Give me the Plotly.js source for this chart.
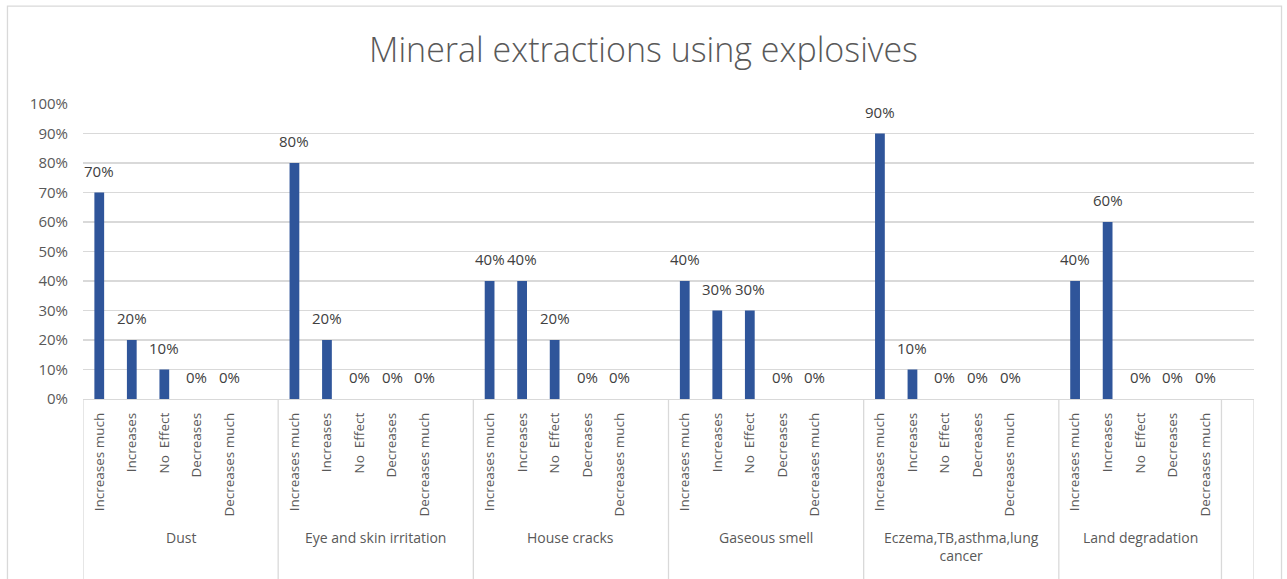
<!DOCTYPE html>
<html>
<head>
<meta charset="utf-8">
<script src="https://cdn.plot.ly/plotly-3.0.1.min.js"></script>
<style>
  html, body { margin: 0; padding: 0; background: #ffffff; }
  #chart { width: 1287px; height: 579px; }
</style>
</head>
<body>
<div id="chart"></div>
<script>
// ---- data ----
var chartTitle = 'Mineral extractions using explosives';
var groups = ['Dust', 'Eye and skin irritation', 'House cracks', 'Gaseous smell', 'Eczema,TB,asthma,lung<br>cancer', 'Land degradation'];
var responses = ['Increases much', 'Increases', 'No\u00a0 Effect', 'Decreases', 'Decreases much'];
var dustValues = [0.7, 0.2, 0.1, 0, 0];
var eyeSkinValues = [0.8, 0.2, 0, 0, 0];
var houseCracksValues = [0.4, 0.4, 0.2, 0, 0];
var gaseousSmellValues = [0.4, 0.3, 0.3, 0, 0];
var eczemaValues = [0.9, 0.1, 0, 0, 0];
var landDegradationValues = [0.4, 0.6, 0, 0, 0];
var yTickValues = [0, 0.1, 0.2, 0.3, 0.4, 0.5, 0.6, 0.7, 0.8, 0.9, 1.0];

var seriesByGroup = [dustValues, eyeSkinValues, houseCracksValues, gaseousSmellValues, eczemaValues, landDegradationValues];

// ---- layout of category slots (Excel-like: blank row after each group) ----
var slotsPerGroup = 6;
var x = [], y = [], tickvals = [], ticktext = [];
var groupStarts = [];
groups.forEach(function (g, gi) {
  var start = gi * slotsPerGroup;
  groupStarts.push(start);
  responses.forEach(function (r, ri) {
    var pos = start + ri;
    x.push(pos);
    y.push(seriesByGroup[gi][ri]);
    tickvals.push(pos);
    ticktext.push(r);
  });
});
var lastGroupEnd = groupStarts[groupStarts.length - 1] + responses.length - 0.5;
var xMax = lastGroupEnd + 1;

var textColor = '#595959';
var gridColor = '#d9d9d9';
var barColor = '#2f559a';
var fontFam = '"Open Sans", "Noto Sans", sans-serif';

var shapes = [];
// dividers
var dividers = groupStarts.map(function (s) { return s - 0.5; });
dividers.push(lastGroupEnd);
dividers.push(xMax);
dividers.forEach(function (d) {
  shapes.push({type: 'line', xref: 'x', yref: 'paper', x0: d, x1: d, y0: 0, y1: -0.62,
               line: {color: gridColor, width: 1.3}});
});
// outer chart border
shapes.push({type: 'rect', xref: 'paper', yref: 'paper', x0: -0.0645, x1: 1.0235, y0: 1.332, y1: -0.65,
             line: {color: gridColor, width: 1.3}, fillcolor: 'rgba(0,0,0,0)'});

var annotations = [];
// data labels
x.forEach(function (xv, i) {
  annotations.push({x: xv, y: y[i], xref: 'x', yref: 'y', text: Math.round(y[i] * 100) + '%',
                    showarrow: false, yanchor: 'bottom', yshift: 10,
                    font: {family: fontFam, size: 15, color: '#404040'}});
});
// group labels
groups.forEach(function (g, gi) {
  var start = groupStarts[gi];
  var end = (gi < groups.length - 1) ? groupStarts[gi + 1] - 0.5 : lastGroupEnd;
  var center = ((start - 0.5) + end) / 2;
  annotations.push({x: center, y: -0.432, xref: 'x', yref: 'paper', text: g, showarrow: false,
                    yanchor: 'top', align: 'center',
                    font: {family: fontFam, size: 14, color: textColor}});
});

var data = [{
  type: 'bar',
  x: x,
  y: y,
  width: 0.3,
  marker: {color: barColor},
  hoverinfo: 'y'
}];

var layout = {
  width: 1287,
  height: 579,
  margin: {l: 83, r: 33, t: 104, b: 180},
  paper_bgcolor: '#ffffff',
  plot_bgcolor: '#ffffff',
  showlegend: false,
  title: {
    text: chartTitle,
    font: {family: fontFam, size: 34, weight: 300, color: textColor},
    x: 0.5, xref: 'container', xanchor: 'center',
    y: 1 - 50 / 579, yref: 'container', yanchor: 'middle'
  },
  xaxis: {
    range: [-0.5, xMax],
    tickmode: 'array',
    tickvals: tickvals,
    ticktext: ticktext,
    tickangle: -90,
    ticks: '',
    ticklabelstandoff: 7,
    showgrid: false,
    zeroline: false,
    showline: true,
    linecolor: gridColor,
    linewidth: 1.3,
    tickfont: {family: fontFam, size: 13.5, color: textColor},
    fixedrange: true
  },
  yaxis: {
    range: [0, 1],
    tickmode: 'array',
    tickvals: yTickValues,
    tickformat: '.0%',
    showgrid: true,
    gridcolor: gridColor,
    gridwidth: 1.3,
    zeroline: false,
    showline: false,
    ticks: '',
    ticklabelstandoff: 14,
    tickfont: {family: fontFam, size: 15, color: textColor},
    fixedrange: true
  },
  shapes: shapes,
  annotations: annotations
};

Plotly.newPlot('chart', data, layout, {displayModeBar: false, staticPlot: true});
</script>
</body>
</html>
